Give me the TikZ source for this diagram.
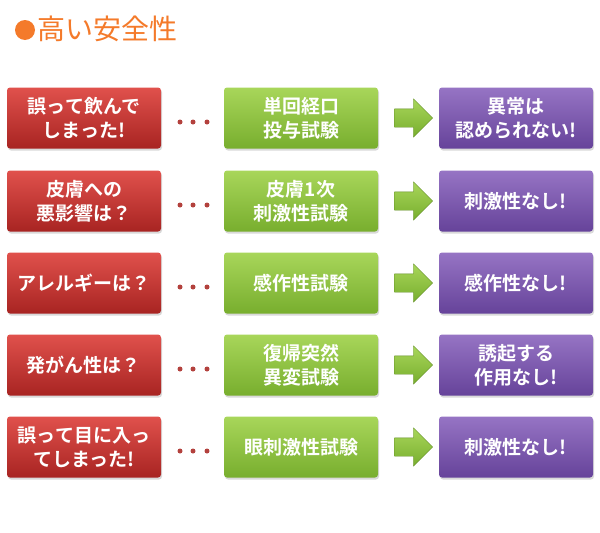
\documentclass[tikz,border=0pt]{standalone}
\usepackage{fontspec}
\newfontfamily\jp{Noto Sans CJK JP Bold}
\newfontfamily\jpr{Noto Sans CJK JP}
\usetikzlibrary{shapes.arrows,shadows}
\definecolor{rtop}{HTML}{E0514C}\definecolor{rbot}{HTML}{A82422}
\definecolor{gtop}{HTML}{A8D65A}\definecolor{gbot}{HTML}{78AE2E}
\definecolor{ptop}{HTML}{9674C4}\definecolor{pbot}{HTML}{66439A}
\definecolor{org}{HTML}{F47A2A}
\tikzset{
 bx/.style={rounded corners=3pt,minimum width=154pt,minimum height=61pt,text=white,align=center,font=\jp\fontsize{19}{24}\selectfont,drop shadow={opacity=0.3,shadow xshift=1pt,shadow yshift=-2pt}},
 redbox/.style={bx,top color=rtop,bottom color=rbot},
 grnbox/.style={bx,top color=gtop,bottom color=gbot},
 purbox/.style={bx,top color=ptop,bottom color=pbot},
 arr/.style={single arrow,single arrow head extend=10pt,text height=18pt,text depth=0pt,text width=0pt,minimum height=38pt,inner sep=0pt,top color=gtop,bottom color=gbot,draw=gbot!80!black,line width=0.3pt},
 dot/.style={circle,fill=rtop!80!black,inner sep=0pt,minimum size=5pt}
}
\begin{document}
\begin{tikzpicture}[x=1pt,y=-1pt]
\useasboundingbox (0,0) rectangle (600,533);
\node[circle,fill=org,minimum size=20pt,inner sep=0pt] (bul) at (25,30) {};
\node[anchor=west,text=org,font=\jpr\fontsize{28}{30}\selectfont,inner sep=0pt] (ttl) at (37,29) {高い安全性};
\foreach \i/\y/\a/\b/\c in {
 1/118/{誤って飲んで\\しまった!}/{単回経口\\投与試験}/{異常は\\認められない!},
 2/201/{皮膚への\\悪影響は？}/{皮膚1次\\刺激性試験}/{刺激性なし!},
 3/283/{アレルギーは？}/{感作性試験}/{感作性なし!},
 4/365/{発がん性は？}/{復帰突然\\異変試験}/{誘起する\\作用なし!},
 5/447/{誤って目に入っ\\てしまった!}/{眼刺激性試験}/{刺激性なし!}}{
 \node[redbox] (r\i) at (84,\y) {\a};
 \node[grnbox] (g\i) at (301,\y) {\b};
 \node[purbox] (p\i) at (516,\y) {\c};
 \node[arr] (a\i) at (409,\y) {};
 \node[dot] (d\i a) at (180,\y+4) {};
 \node[dot] (d\i b) at (193,\y+4) {};
 \node[dot] (d\i c) at (207,\y+4) {};
}
\end{tikzpicture}
\end{document}
